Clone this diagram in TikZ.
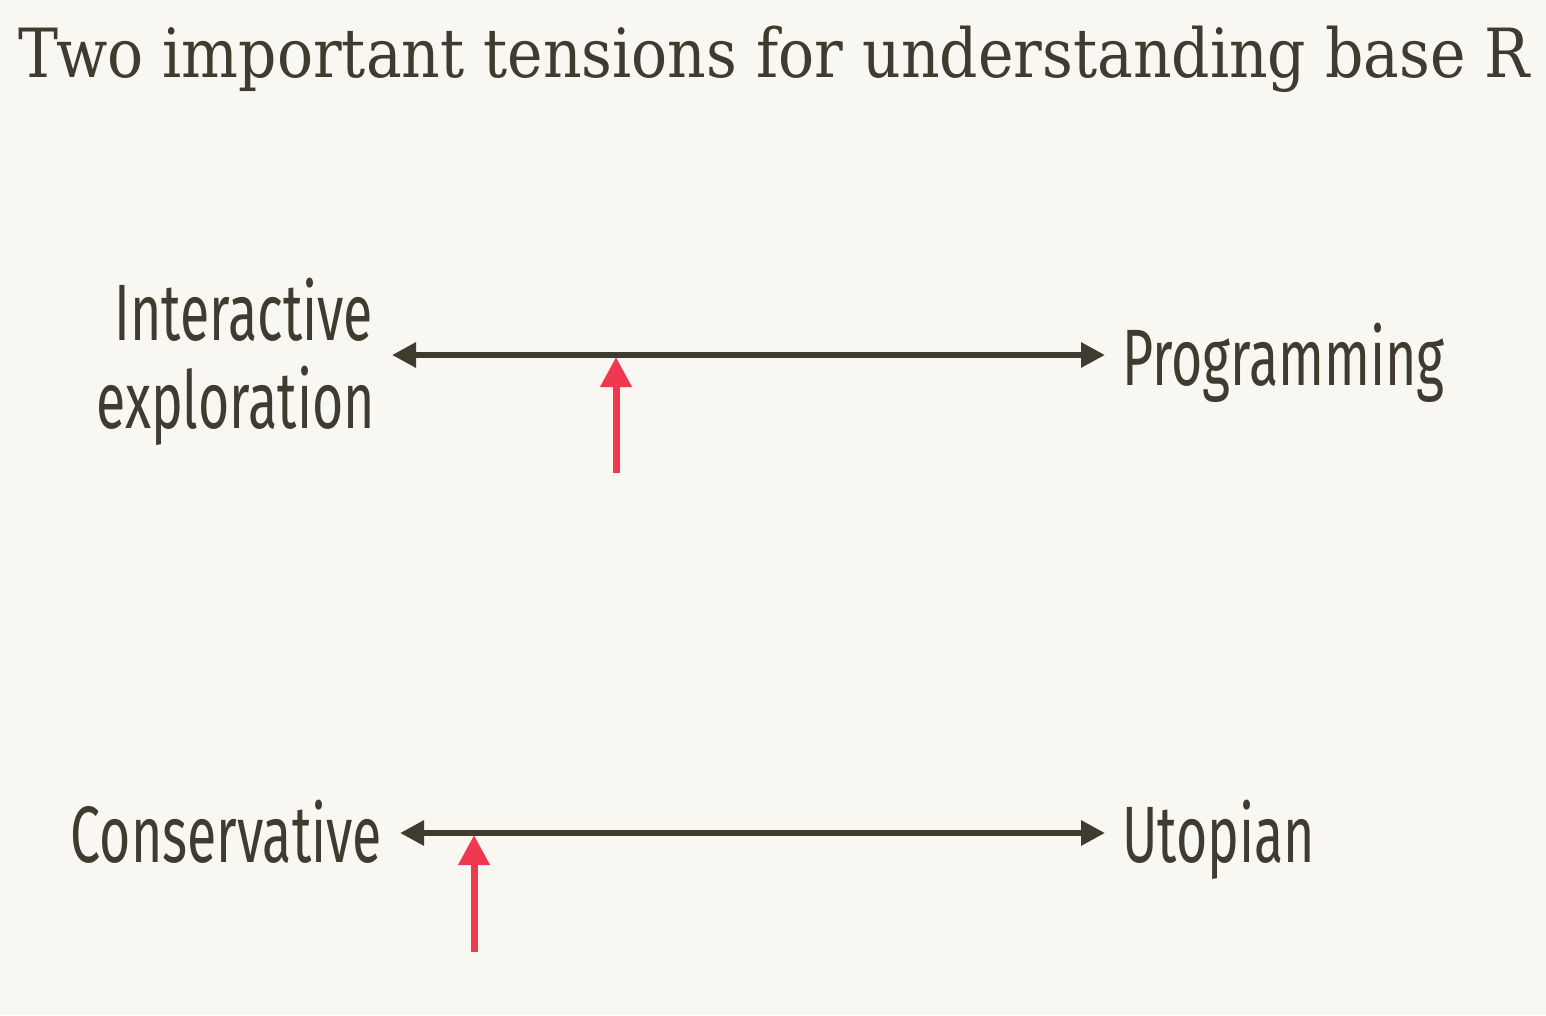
\documentclass[tikz,border=0pt]{standalone}
\usepackage{fontspec}
\usetikzlibrary{arrows.meta}
\newfontfamily\titlefont{DejaVu Serif}
\newfontfamily\labelfont[FakeStretch=0.67]{Fira Sans}
\definecolor{bgc}{HTML}{F8F7F2}
\definecolor{ink}{HTML}{3F3B2F}
\definecolor{accent}{HTML}{F0394F}
\begin{document}
\begin{tikzpicture}[x=1pt,y=-1pt,
  lbl/.style={inner sep=0pt,text=ink,font=\labelfont\fontsize{80}{90}\selectfont},
  axis/.style={draw=ink,line width=6pt,{Triangle[length=24pt,width=24pt]}-{Triangle[length=24pt,width=24pt]}},
  marker/.style={draw=accent,line width=7pt,-{Triangle[length=30pt,width=30pt]}}]
\fill[bgc] (0,0) rectangle (1546,1015);
\useasboundingbox (0,0) rectangle (1546,1015);
\node[inner sep=0pt,anchor=base west,text=ink] (title) at (18,77)
  {\scalebox{1}[1.13]{\resizebox{1512pt}{!}{\titlefont Two important tensions for understanding base R}}};
% first tension
\node[lbl,anchor=base east] (inter) at (373,340) {Interactive};
\node[lbl,anchor=base east] (explo) at (375,428) {exploration};
\node[lbl,anchor=base west] (prog) at (1122,385) {Programming};
\coordinate (a1l) at (392,355);
\coordinate (a1r) at (1105,355);
\draw[axis] (a1l) -- (a1r);
\coordinate (m1s) at (616,473);
\coordinate (m1e) at (616,357);
\draw[marker] (m1s) -- (m1e);
% second tension
\node[lbl,anchor=base east] (cons) at (382,862) {Conservative};
\node[lbl,anchor=base west] (utop) at (1122,862) {Utopian};
\coordinate (a2l) at (400,833);
\coordinate (a2r) at (1105,833);
\draw[axis] (a2l) -- (a2r);
\coordinate (m2s) at (474,952);
\coordinate (m2e) at (474,835);
\draw[marker] (m2s) -- (m2e);
\end{tikzpicture}
\end{document}
